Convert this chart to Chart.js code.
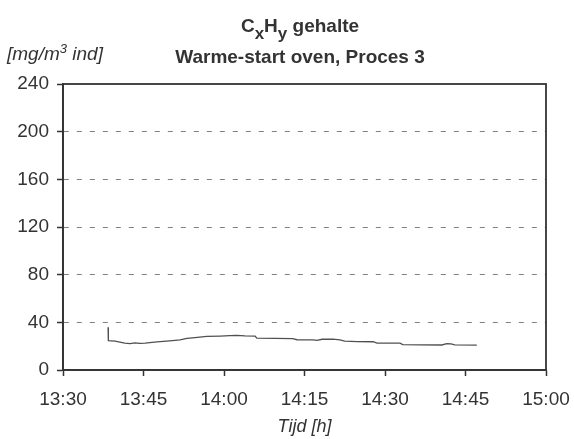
<!DOCTYPE html>
<html lang="nl">
<head>
  <meta charset="UTF-8">
  <title>CxHy gehalte</title>
  <script src="https://cdn.jsdelivr.net/npm/chart.js"></script>
  <style>
    html, body { margin: 0; padding: 0; background: #fff; }
    #wrap { position: relative; width: 574px; height: 439px; font-family: "Liberation Sans", Arial, sans-serif; color: #333; }
    .title { position: absolute; left: 300px; transform: translateX(-50%); white-space: nowrap; font-weight: bold; font-size: 19px; line-height: 19px; }
    .sub { position: relative; top: 7px; font-size: 17px; }
    #unit { position: absolute; left: 7px; top: 44px; font-style: italic; font-size: 19px; line-height: 19px; white-space: nowrap; }
    #unit sup { font-size: 13px; position: relative; top: -7px; vertical-align: baseline; line-height: 0; }
  </style>
</head>
<body>
<div id="wrap">
  <canvas id="chart" width="574" height="439"></canvas>
  <div class="title" style="top:16px">C<span class="sub">x</span>H<span class="sub">y</span> gehalte</div>
  <div class="title" style="top:47px">Warme-start oven, Proces 3</div>
  <div id="unit">[mg/m<sup>3</sup> ind]</div>
</div>

<script>
  // tijd in minuten na 13:30
  var minutes = [8.4, 8.45, 9.7, 11.5, 12.5, 13.4, 14.3, 15.3, 17.5, 19.9, 21.8, 23.1, 24.6, 26.8, 29.3, 31.1, 32.4, 33.9, 35.8, 36.1,
                 39.5, 42.8, 43.6, 46.6, 47.3, 48.3, 50.3, 51.6, 52.5, 54.8, 57.8, 58.5, 62.8, 63.3, 66.5, 70.6, 71.5, 72.3, 73.0, 77.1];
  // CxHy [mg/m3 ind]
  var cxhy = [35.8, 24.6, 24.2, 22.6, 22.2, 22.8, 22.3, 22.6, 23.6, 24.4, 25.2, 26.5, 27.2, 28.3, 28.5, 28.8, 29.0, 28.6, 28.5, 26.7,
              26.5, 26.3, 25.4, 25.2, 24.8, 25.8, 25.9, 25.2, 24.2, 23.8, 23.7, 22.6, 22.5, 21.3, 21.1, 21.0, 22.2, 22.0, 21.1, 20.9];
  var xTickLabels = ['13:30', '13:45', '14:00', '14:15', '14:30', '14:45', '15:00'];
  var yTicks = [0, 40, 80, 120, 160, 200, 240];

  var points = minutes.map(function (m, i) { return { x: m, y: cxhy[i] }; });
  var textColor = '#333';
  var axisColor = '#333';

  // kader rond het plotgebied
  var framePlugin = {
    id: 'frame',
    afterDatasetsDraw: function (chart) {
      var a = chart.chartArea, c = chart.ctx;
      c.save();
      c.strokeStyle = axisColor;
      c.lineWidth = 1.8;
      c.strokeRect(a.left, a.top, a.right - a.left, a.bottom - a.top);
      c.restore();
    }
  };

  var ctx = document.getElementById('chart').getContext('2d');
  var chart = new Chart(ctx, {
    type: 'line',
    data: {
      datasets: [{
        data: points,
        borderColor: '#505050',
        borderWidth: 1.3,
        pointRadius: 0,
        tension: 0,
        fill: false
      }]
    },
    options: {
      responsive: false,
      animation: false,
      layout: { padding: { top: 84, right: 28, left: 0, bottom: 0 } },
      plugins: { legend: { display: false }, tooltip: { enabled: false } },
      scales: {
        x: {
          type: 'linear',
          min: 0,
          max: 90,
          afterFit: function (s) { s.height = 69; s.paddingLeft = 0; s.paddingRight = 0; },
          afterBuildTicks: function (s) { s.ticks = xTickLabels.map(function (l, i) { return { value: i * 15 }; }); },
          ticks: {
            color: textColor,
            font: { family: 'Liberation Sans', size: 19 },
            padding: 12,
            maxRotation: 0,
            callback: function (v) { return xTickLabels[v / 15]; }
          },
          grid: { drawOnChartArea: false, tickLength: 6, tickColor: axisColor, tickWidth: 1.5 },
          border: { color: axisColor, width: 1.8 },
          title: {
            display: true,
            text: 'Tijd [h]',
            color: textColor,
            font: { family: 'Liberation Sans', size: 18, style: 'italic' },
            padding: { top: 0, bottom: 1 }
          }
        },
        y: {
          min: 0,
          max: 240,
          afterFit: function (s) { s.width = 63; s.paddingTop = 0; s.paddingBottom = 0; },
          afterBuildTicks: function (s) { s.ticks = yTicks.map(function (v) { return { value: v }; }); },
          ticks: {
            color: textColor,
            font: { family: 'Liberation Sans', size: 19 },
            padding: 8
          },
          grid: {
            color: function (c) { return (c.tick && (c.tick.value === 0 || c.tick.value === 240)) ? 'rgba(0,0,0,0)' : '#808080'; },
            lineWidth: 1,
            tickLength: 6,
            tickColor: axisColor,
            tickWidth: 1.5
          },
          border: { color: axisColor, width: 1.8, dash: [5, 8] }
        }
      }
    },
    plugins: [framePlugin]
  });
</script>
</body>
</html>
